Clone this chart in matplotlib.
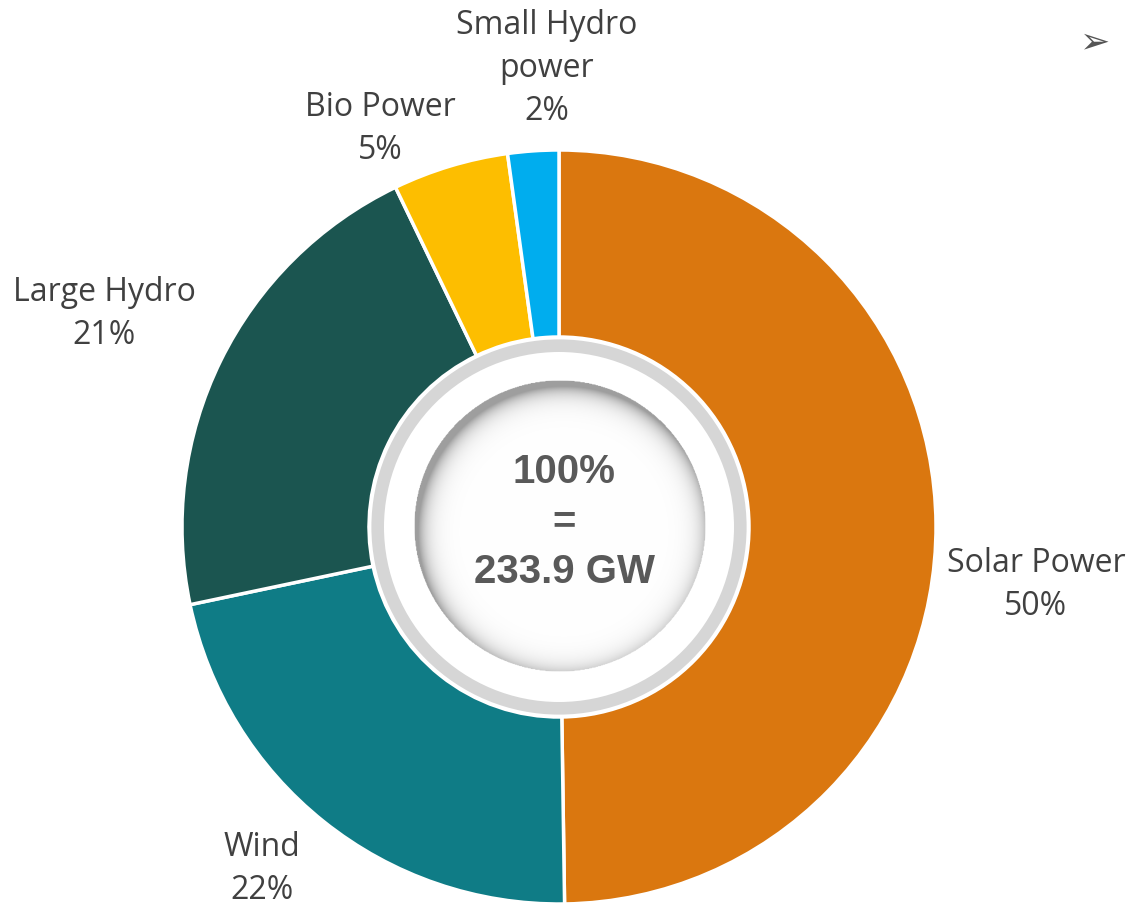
import numpy as np
import matplotlib
matplotlib.use("Agg")
import matplotlib.pyplot as plt
from matplotlib.patches import Circle

# ---- data ----
categories = ["Solar Power", "Wind", "Large Hydro", "Bio Power", "Small Hydro\npower"]
values_gw = [116.4, 51.3, 49.5, 11.6, 5.1]
colors = ["#DA770F", "#0F7C86", "#1B5550", "#FDBE00", "#00ADEE"]

# ---- layout (pixels, y measured from top) ----
label_pos = [(1036, 585), (262, 869), (104, 314), (380, 129), (547, 69)]

W, H = 1132, 905
fig = plt.figure(figsize=(W / 100, H / 100), dpi=100)
ax = fig.add_axes([0, 0, 1, 1])

cx, cy = 559, H - 527
R = 377
r_in = 190

total = sum(values_gw)
ax.pie(values_gw, colors=colors, startangle=90, counterclock=False,
       center=(cx, cy), radius=R,
       wedgeprops=dict(width=R - r_in, edgecolor="white", linewidth=2.5))

# grey ring + white ring + inner disc
ax.add_patch(Circle((cx, cy), r_in - 1, facecolor="#D6D6D6", edgecolor="white", linewidth=2, zorder=3))
ax.add_patch(Circle((cx, cy), 175, facecolor="white", edgecolor="none", zorder=4))

# inner disc with soft inner shadow (top-left)
dcx, dcy, dr = 560, H - 526, 146
n = 400
xs = np.linspace(dcx - dr, dcx + dr, n)
ys = np.linspace(dcy - dr, dcy + dr, n)
X, Y = np.meshgrid(xs, ys)
dist = np.hypot(X - dcx, Y - dcy)
dist_s = np.hypot(X - (dcx + 4), Y - (dcy - 6))
edge = dr - dist_s
shade = 1 - 0.38 * np.exp(-np.clip(edge, 0, None) / 9.0)
shade = np.where(edge < 0, 0.62, shade)
img = np.ones((n, n, 4))
img[..., 0] = shade
img[..., 1] = shade
img[..., 2] = shade
img[..., 3] = (dist <= dr).astype(float)
im = ax.imshow(img, extent=(dcx - dr, dcx + dr, dcy - dr, dcy + dr), origin="lower",
               zorder=5, interpolation="bilinear")
clip = Circle((dcx, dcy), dr, transform=ax.transData)
im.set_clip_path(clip)

# centre text
ax.text(cx + 5, H - 522, f"100%\n=\n{total:.1f} GW", ha="center", va="center",
        fontsize=29, fontweight="bold", family="Liberation Sans", color="#595959",
        linespacing=1.4, zorder=6)

# labels
for cat, v, (lx, ly) in zip(categories, values_gw, label_pos):
    pct = round(v / total * 100)
    ax.text(lx, H - ly, f"{cat}\n{pct}%", ha="center", va="center",
            fontsize=23, family="Open Sans", color="#404040", linespacing=1.4)

ax.text(1095, H - 42, "\u27a2", ha="center", va="center", fontsize=26,
        family="DejaVu Sans", color="#555555")

ax.set_xlim(0, W)
ax.set_ylim(0, H)
ax.set_aspect("equal")
ax.axis("off")
fig.savefig("out.png", dpi=100)
